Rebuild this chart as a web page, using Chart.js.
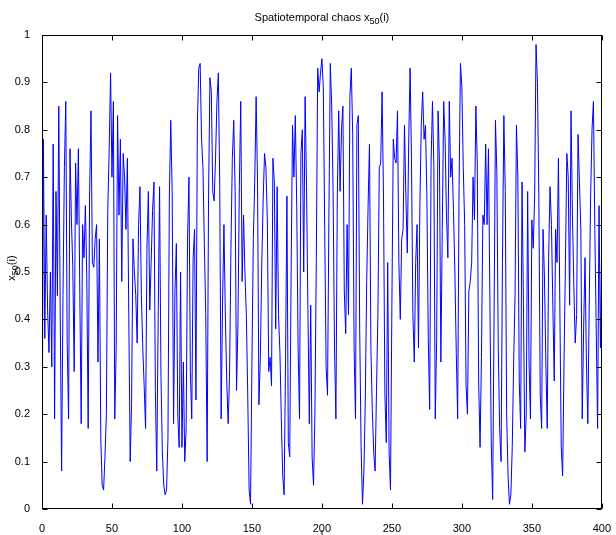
<!DOCTYPE html>
<html>
<head>
<meta charset="utf-8">
<script src="https://cdn.jsdelivr.net/npm/chart.js@4"></script>
<style>
  body { margin: 0; background: #fff; }
  canvas { display: block; }
</style>
</head>
<body>
<canvas id="caos" width="616" height="535"></canvas>
<script>
// x_50(i) del retículo acoplado, un valor por iteración i = 0..400
const valores = [
  0.01, 0.78, 0.36, 0.62, 0.42, 0.33, 0.50, 0.30, 0.77, 0.19,
  0.67, 0.45, 0.85, 0.42, 0.08, 0.45, 0.72, 0.86, 0.35, 0.19,
  0.76, 0.61, 0.51, 0.29, 0.73, 0.60, 0.76, 0.46, 0.18, 0.60,
  0.53, 0.64, 0.49, 0.17, 0.66, 0.84, 0.52, 0.51, 0.57, 0.60,
  0.31, 0.57, 0.15, 0.05, 0.04, 0.11, 0.20, 0.63, 0.76, 0.92,
  0.70, 0.86, 0.19, 0.34, 0.83, 0.62, 0.78, 0.48, 0.75, 0.70,
  0.59, 0.74, 0.41, 0.10, 0.22, 0.57, 0.50, 0.45, 0.35, 0.60,
  0.68, 0.45, 0.34, 0.26, 0.17, 0.55, 0.67, 0.42, 0.52, 0.63,
  0.69, 0.25, 0.08, 0.40, 0.68, 0.28, 0.12, 0.05, 0.03, 0.04,
  0.15, 0.66, 0.82, 0.67, 0.18, 0.46, 0.56, 0.20, 0.13, 0.50,
  0.13, 0.31, 0.10, 0.17, 0.57, 0.70, 0.29, 0.19, 0.53, 0.59,
  0.23, 0.81, 0.93, 0.94, 0.78, 0.72, 0.56, 0.41, 0.10, 0.66,
  0.91, 0.88, 0.67, 0.65, 0.74, 0.86, 0.92, 0.68, 0.19, 0.43,
  0.60, 0.41, 0.27, 0.18, 0.28, 0.55, 0.74, 0.82, 0.67, 0.25,
  0.39, 0.68, 0.86, 0.48, 0.62, 0.50, 0.41, 0.24, 0.04, 0.01,
  0.31, 0.57, 0.69, 0.87, 0.69, 0.22, 0.32, 0.51, 0.65, 0.75,
  0.72, 0.61, 0.29, 0.32, 0.26, 0.74, 0.69, 0.38, 0.68, 0.41,
  0.33, 0.19, 0.07, 0.03, 0.31, 0.66, 0.14, 0.11, 0.50, 0.81,
  0.70, 0.83, 0.64, 0.34, 0.19, 0.75, 0.80, 0.50, 0.87, 0.68,
  0.42, 0.18, 0.43, 0.11, 0.05, 0.20, 0.53, 0.93, 0.88, 0.92,
  0.95, 0.89, 0.59, 0.30, 0.24, 0.62, 0.94, 0.85, 0.67, 0.34,
  0.19, 0.66, 0.84, 0.67, 0.80, 0.85, 0.46, 0.37, 0.60, 0.41,
  0.87, 0.93, 0.79, 0.34, 0.19, 0.81, 0.83, 0.38, 0.13, 0.01,
  0.08, 0.23, 0.48, 0.64, 0.77, 0.34, 0.21, 0.12, 0.08, 0.25,
  0.41, 0.72, 0.73, 0.88, 0.66, 0.24, 0.14, 0.52, 0.12, 0.04,
  0.43, 0.78, 0.74, 0.73, 0.84, 0.52, 0.40, 0.57, 0.59, 0.81,
  0.66, 0.54, 0.77, 0.93, 0.74, 0.41, 0.31, 0.52, 0.60, 0.34,
  0.64, 0.81, 0.88, 0.78, 0.81, 0.66, 0.36, 0.21, 0.73, 0.86,
  0.72, 0.19, 0.36, 0.84, 0.73, 0.31, 0.59, 0.86, 0.78, 0.62,
  0.53, 0.86, 0.70, 0.74, 0.63, 0.50, 0.33, 0.19, 0.68, 0.94,
  0.89, 0.72, 0.60, 0.26, 0.20, 0.46, 0.48, 0.52, 0.70, 0.61,
  0.85, 0.73, 0.27, 0.13, 0.32, 0.62, 0.60, 0.77, 0.60, 0.76,
  0.45, 0.14, 0.02, 0.40, 0.82, 0.71, 0.34, 0.17, 0.10, 0.52,
  0.83, 0.67, 0.20, 0.07, 0.01, 0.03, 0.13, 0.31, 0.45, 0.81,
  0.70, 0.27, 0.17, 0.69, 0.43, 0.12, 0.20, 0.67, 0.31, 0.19,
  0.61, 0.55, 0.66, 0.98, 0.90, 0.66, 0.24, 0.17, 0.59, 0.49,
  0.31, 0.17, 0.53, 0.68, 0.60, 0.43, 0.27, 0.59, 0.52, 0.74,
  0.43, 0.13, 0.07, 0.31, 0.52, 0.75, 0.70, 0.43, 0.84, 0.62,
  0.47, 0.35, 0.41, 0.79, 0.69, 0.59, 0.19, 0.38, 0.53, 0.31,
  0.18, 0.43, 0.66, 0.80, 0.86, 0.59, 0.38, 0.17, 0.64, 0.34,
  0.58
];
const marcasX = [0, 50, 100, 150, 200, 250, 300, 350, 400];
const marcasY = [0, 0.1, 0.2, 0.3, 0.4, 0.5, 0.6, 0.7, 0.8, 0.9, 1];
const titulo = ['Spatiotemporal chaos x', '50', '(i)'];
const etiquetaY = ['x', '50', '(i)'];
const etiquetaX = 'i';

const fuente = '"Liberation Sans", Arial, sans-serif';

// texto con subíndice: [base, subíndice, resto], centrado en (x, y)
function textoConSub(ctx, partes, x, y, tam) {
    const fBase = tam + 'px ' + fuente;
    const fSub = Math.round(tam * 0.8) + 'px ' + fuente;
    ctx.font = fBase;
    const w0 = ctx.measureText(partes[0]).width;
    const w2 = ctx.measureText(partes[2]).width;
    ctx.font = fSub;
    const w1 = ctx.measureText(partes[1]).width;
    let cx = x - (w0 + w1 + w2) / 2;
    ctx.textAlign = 'left';
    ctx.textBaseline = 'alphabetic';
    ctx.font = fBase;
    ctx.fillText(partes[0], cx, y);
    cx += w0;
    ctx.font = fSub;
    ctx.fillText(partes[1], cx, y + tam * 0.3);
    cx += w1;
    ctx.font = fBase;
    ctx.fillText(partes[2], cx, y);
}

// marco estilo MATLAB: caja cerrada, marcas hacia dentro, títulos
const marco = {
    id: 'marco',
    afterDraw(chart) {
        const ctx = chart.ctx;
        const a = chart.chartArea;
        const sx = chart.scales.x, sy = chart.scales.y;
        const L = Math.round(a.left) + 0.5, R = Math.round(a.right) - 0.5;
        const T = Math.round(a.top) + 0.5, B = Math.round(a.bottom) - 0.5;
        ctx.save();
        ctx.strokeStyle = '#000';
        ctx.lineWidth = 1;
        ctx.strokeRect(L, T, R - L, B - T);
        ctx.beginPath();
        marcasY.forEach(v => {
            const y = Math.round(sy.getPixelForValue(v)) + 0.5;
            ctx.moveTo(L, y); ctx.lineTo(L + 5, y);
            ctx.moveTo(R, y); ctx.lineTo(R - 5, y);
        });
        marcasX.forEach(v => {
            const x = Math.round(sx.getPixelForValue(v)) + 0.5;
            ctx.moveTo(x, B); ctx.lineTo(x, B - 5);
            ctx.moveTo(x, T); ctx.lineTo(x, T + 5);
        });
        ctx.stroke();

        ctx.fillStyle = '#000';
        textoConSub(ctx, titulo, (a.left + a.right) / 2, 21, 11);

        ctx.save();
        ctx.translate(15, (a.top + a.bottom) / 2 - 4);
        ctx.rotate(-Math.PI / 2);
        textoConSub(ctx, etiquetaY, 0, 0, 11);
        ctx.restore();

        ctx.font = '11px ' + fuente;
        ctx.textAlign = 'center';
        ctx.textBaseline = 'alphabetic';
        ctx.fillText(etiquetaX, (a.left + a.right) / 2, 538);
        ctx.restore();
    }
};

const ctx = document.getElementById('caos');
new Chart(ctx, {
    type: 'line',
    data: {
        datasets: [{
            data: valores.map((v, i) => ({ x: i, y: v })),
            borderColor: '#0000ff',
            borderWidth: 1,
            pointRadius: 0,
            tension: 0,
            fill: false
        }]
    },
    options: {
        responsive: false,
        animation: false,
        layout: { padding: { top: 35, right: 5, left: 0, bottom: 0 } },
        plugins: {
            legend: { display: false },
            tooltip: { enabled: false }
        },
        scales: {
            x: {
                type: 'linear',
                min: 0,
                max: 400,
                afterBuildTicks: s => { s.ticks = marcasX.map(v => ({ value: v })); },
                afterFit: s => { s.height = 26; },
                grid: { display: false },
                border: { display: false },
                ticks: {
                    padding: 5,
                    color: '#000',
                    maxRotation: 0,
                    font: { family: fuente, size: 11 },
                    callback: v => String(v)
                }
            },
            y: {
                type: 'linear',
                min: 0,
                max: 1,
                afterBuildTicks: s => { s.ticks = marcasY.map(v => ({ value: v })); },
                afterFit: s => { s.width = 42; },
                grid: { display: false },
                border: { display: false },
                ticks: {
                    padding: 4,
                    color: '#000',
                    font: { family: fuente, size: 11 },
                    callback: v => String(Math.round(v * 10) / 10)
                }
            }
        }
    },
    plugins: [marco]
});
</script>
</body>
</html>
